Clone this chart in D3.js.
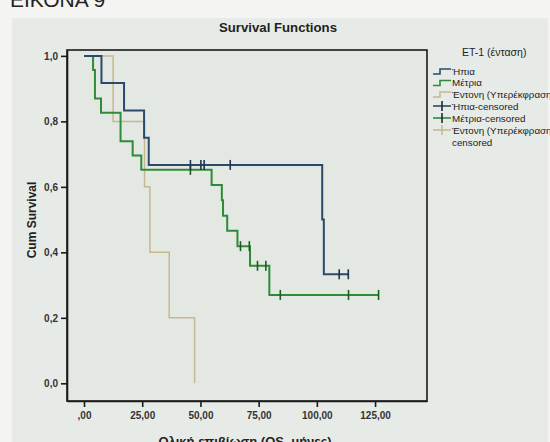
<!DOCTYPE html>
<html>
    <head>
        <meta charset="utf-8">
        <title>Survival Functions</title>
        <script src="https://d3js.org/d3.v7.min.js"></script>
        <style>
            body { margin: 0; background: #f4f5f3; }
            text { font-family: "Liberation Sans", Arial, sans-serif; }
        </style>
    </head>

    <body>
        <svg id="canvas" width="550" height="442"></svg>

        <script>
            // Ήπια (mild)
            var hpiaTimes = [0, 7.5, 17.2, 25.8, 27.8, 102.3, 103, 113.5];
            var hpiaSurv  = [1, 0.917, 0.833, 0.75, 0.667, 0.5, 0.333, 0.333];
            var hpiaCensTimes = [45.7, 50.2, 51.6, 62.8, 109.6, 113.5];
            var hpiaCensSurv  = [0.667, 0.667, 0.667, 0.667, 0.333, 0.333];

            // Μέτρια (moderate)
            var metriaTimes = [0, 3.9, 4.7, 7.3, 15.7, 20.9, 24.6, 54.8, 59.2, 59.7, 61.5, 65.9, 71.3, 79.6, 126.5];
            var metriaSurv  = [1, 0.957, 0.870, 0.826, 0.739, 0.696, 0.652, 0.606, 0.559, 0.512, 0.466, 0.419, 0.359, 0.270, 0.270];
            var metriaCensTimes = [45.7, 67.2, 71.0, 74.5, 78.1, 84.3, 113.6, 126.5];
            var metriaCensSurv  = [0.652, 0.419, 0.419, 0.359, 0.359, 0.270, 0.270, 0.270];

            // Έντονη (strong / overexpression)
            var entoniTimes = [0, 12.5, 26, 28.3, 36.6, 47.5];
            var entoniSurv  = [1, 0.8, 0.6, 0.4, 0.2, 0];

            var xTicks = [0, 25, 50, 75, 100, 125];
            var yTicks = [0, 0.2, 0.4, 0.6, 0.8, 1.0];

            var legendLabels = ["Ήπια", "Μέτρια", "Έντονη (Υπερέκφραση)", "Ήπια-censored", "Μέτρια-censored", "Έντονη (Υπερέκφραση)-", "censored"];

            var blue = "#2b4a6b", green = "#2f8a3a", tan = "#c6b98e";

            var svg = d3.select("#canvas");

            // photographed page panel
            svg.append("rect").attr("x", 12).attr("y", 18).attr("width", 536).attr("height", 430)
                .attr("fill", "#e7ebe7");

            svg.append("text").attr("x", 10).attr("y", 7)
                .attr("font-size", 21).attr("fill", "#222").text("ΕΙΚΟΝΑ 9");

            var plotL = 67, plotR = 427, plotT = 50, plotB = 401;

            var x = d3.scaleLinear().domain([-7.3, 147.3]).range([plotL, plotR]);
            var y = d3.scaleLinear().domain([-0.054, 1.018]).range([plotB, plotT]);

            svg.append("rect").attr("x", plotL).attr("y", plotT)
                .attr("width", plotR - plotL).attr("height", plotB - plotT)
                .attr("fill", "#e3e8e3").attr("stroke", "#1a1a1a").attr("stroke-width", 1.6);

            // Title
            svg.append("text").attr("x", 278).attr("y", 32)
                .attr("text-anchor", "middle").attr("font-size", 13.2).attr("font-weight", "bold")
                .attr("fill", "#222").text("Survival Functions");

            // Axes
            var xAxis = svg.append("g")
                .attr("transform", "translate(0," + plotB + ")")
                .call(d3.axisBottom(x).tickValues(xTicks).tickSize(6).tickSizeOuter(0)
                    .tickFormat(function(d){ return d === 0 ? ",00" : d + ",00"; }));
            var yAxis = svg.append("g")
                .attr("transform", "translate(" + plotL + ",0)")
                .call(d3.axisLeft(y).tickValues(yTicks).tickSize(6).tickSizeOuter(0)
                    .tickFormat(function(d){ return d3.format(".1f")(d).replace(".", ","); }));

            [xAxis, yAxis].forEach(function(a){
                a.select(".domain").attr("stroke", "#1a1a1a").attr("stroke-width", 1.6);
                a.selectAll(".tick line").attr("stroke", "#1a1a1a").attr("stroke-width", 1.6);
                a.selectAll(".tick text").attr("font-size", 10).attr("font-weight", "bold")
                    .attr("fill", "#333").attr("font-family", "'Liberation Sans', Arial, sans-serif");
            });
            xAxis.selectAll(".tick text").attr("dy", "0.85em");

            // Axis titles
            svg.append("text").attr("transform", "translate(36,220) rotate(-90)")
                .attr("text-anchor", "middle").attr("font-size", 12).attr("font-weight", "bold")
                .attr("fill", "#222").text("Cum Survival");
            svg.append("text").attr("x", 245).attr("y", 445.5)
                .attr("text-anchor", "middle").attr("font-size", 13).attr("font-weight", "bold")
                .attr("fill", "#222").text("Ολική επιβίωση (OS, μήνες)");

            // Survival curves
            var line = d3.line()
                .x(function(d){ return x(d[0]); })
                .y(function(d){ return y(d[1]); })
                .curve(d3.curveStepAfter);

            function curve(times, surv, color, width) {
                svg.append("path")
                    .datum(d3.zip(times, surv))
                    .attr("d", line)
                    .attr("fill", "none")
                    .attr("stroke", color)
                    .attr("stroke-width", width);
            }

            function censors(times, surv, color) {
                svg.append("g").selectAll("line")
                    .data(d3.zip(times, surv))
                    .enter().append("line")
                    .attr("x1", function(d){ return x(d[0]); })
                    .attr("x2", function(d){ return x(d[0]); })
                    .attr("y1", function(d){ return y(d[1]) - 5; })
                    .attr("y2", function(d){ return y(d[1]) + 5; })
                    .attr("stroke", color)
                    .attr("stroke-width", 1.6);
            }

            curve(entoniTimes, entoniSurv, tan, 1.5);
            curve(metriaTimes, metriaSurv, green, 2);
            curve(hpiaTimes, hpiaSurv, blue, 2);
            censors(metriaCensTimes, metriaCensSurv, "#1f5a26");
            censors(hpiaCensTimes, hpiaCensSurv, "#1d3550");

            // Legend
            var lg = svg.append("g");
            lg.append("text").attr("x", 462).attr("y", 56)
                .attr("font-size", 10.5).attr("fill", "#222").text("ET-1 (ένταση)");

            var legColors = [blue, green, tan, blue, green, tan];
            var rowY = [71, 82.5, 94, 106, 118, 130];

            rowY.forEach(function(ry, i){
                var c = legColors[i];
                if (i < 3) {
                    lg.append("path")
                        .attr("d", "M433," + (ry + 3) + "H440V" + (ry - 2) + "H451")
                        .attr("fill", "none").attr("stroke", c).attr("stroke-width", 1.6);
                } else {
                    lg.append("line").attr("x1", 433).attr("x2", 451).attr("y1", ry).attr("y2", ry)
                        .attr("stroke", c).attr("stroke-width", 1.6);
                    lg.append("line").attr("x1", 442).attr("x2", 442).attr("y1", ry - 5).attr("y2", ry + 5)
                        .attr("stroke", i === 5 ? tan : "#1a2a3a").attr("stroke-width", 1.6);
                }
                lg.append("text").attr("x", 452).attr("y", ry + 3.5)
                    .attr("font-size", 9.8).attr("fill", "#222").text(legendLabels[i]);
            });
            lg.append("text").attr("x", 452).attr("y", 145.5)
                .attr("font-size", 9.8).attr("fill", "#222").text(legendLabels[6]);
        </script>
    </body>
</html>
